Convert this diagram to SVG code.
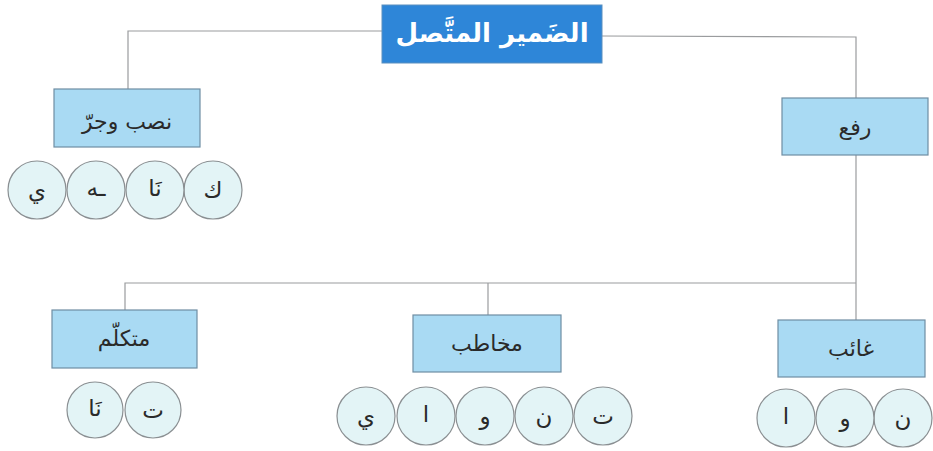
<svg xmlns="http://www.w3.org/2000/svg" width="933" height="451" viewBox="0 0 933 451">
<style>
.box{fill:#a9daf3;stroke:#6f8ea3;stroke-width:1.2}
.top{fill:#2e86d8;stroke:#5a8fbf;stroke-width:1}
.c{fill:#e3f4f6;stroke:#8a8f92;stroke-width:1.2}
.t{font-family:"DejaVu Sans",sans-serif;font-size:22px;fill:#2a2a2a;text-anchor:middle;dominant-baseline:central}
.tt{font-family:"DejaVu Sans",sans-serif;font-size:26px;font-weight:bold;fill:#ffffff;text-anchor:middle;dominant-baseline:central}
.lt{font-family:"DejaVu Sans",sans-serif;font-size:23px;fill:#2a2a2a;text-anchor:middle;dominant-baseline:central}
.ln{fill:none;stroke:#9a9c9e;stroke-width:1.2}
</style>
<rect width="933" height="451" fill="#ffffff"/>
<g id="connectors">
<polyline class="ln" points="382,31 128,31 128,89"/>
<polyline class="ln" points="602,36 856,37 856,98"/>
<polyline class="ln" points="856,155 856,320"/>
<polyline class="ln" points="856,283 125,283 125,310"/>
<line class="ln" x1="488" y1="283" x2="488" y2="315"/>
</g>
<g id="root">
<rect class="top" x="382" y="5" width="220" height="58"/>
<text class="tt" x="492" y="33">الضَمير المتَّصل</text>
</g>
<g id="nasb">
<rect class="box" x="54" y="89" width="146" height="58"/>
<text class="t" x="127" y="121">نصب وجرّ</text>
</g>
<g id="nasb-letters">
<circle class="c" cx="213" cy="190" r="29"/><text class="lt" x="213" y="190">ك</text>
<circle class="c" cx="155" cy="190" r="29"/><text class="lt" x="155" y="188">نَا</text>
<circle class="c" cx="96" cy="190" r="29"/><text class="lt" x="96" y="188">ـه</text>
<circle class="c" cx="37" cy="190" r="29"/><text class="lt" x="37" y="190">ي</text>
</g>
<g id="rafa">
<rect class="box" x="782" y="98" width="146" height="57"/>
<text class="t" x="855" y="127">رفع</text>
</g>
<g id="mutakallim">
<rect class="box" x="52" y="310" width="145" height="58"/>
<text class="t" x="124" y="338">متكلّم</text>
</g>
<g id="mutakallim-letters">
<circle class="c" cx="153" cy="410" r="28"/><text class="lt" x="153" y="410">ت</text>
<circle class="c" cx="95" cy="410" r="28"/><text class="lt" x="95" y="408">نَا</text>
</g>
<g id="mukhatab">
<rect class="box" x="413" y="315" width="148" height="57"/>
<text class="t" x="487" y="343">مخاطب</text>
</g>
<g id="mukhatab-letters">
<circle class="c" cx="603" cy="416" r="29"/><text class="lt" x="603" y="416">ت</text>
<circle class="c" cx="544" cy="416" r="29"/><text class="lt" x="544" y="416">ن</text>
<circle class="c" cx="485" cy="416" r="29"/><text class="lt" x="485" y="416">و</text>
<circle class="c" cx="426" cy="416" r="29"/><text class="lt" x="426" y="414">ا</text>
<circle class="c" cx="366" cy="416" r="29"/><text class="lt" x="366" y="416">ي</text>
</g>
<g id="ghaib">
<rect class="box" x="778" y="320" width="147" height="57"/>
<text class="t" x="851" y="348">غائب</text>
</g>
<g id="ghaib-letters">
<circle class="c" cx="903" cy="418" r="29"/><text class="lt" x="903" y="418">ن</text>
<circle class="c" cx="845" cy="418" r="29"/><text class="lt" x="845" y="418">و</text>
<circle class="c" cx="786" cy="418" r="29"/><text class="lt" x="786" y="416">ا</text>
</g>
</svg>
